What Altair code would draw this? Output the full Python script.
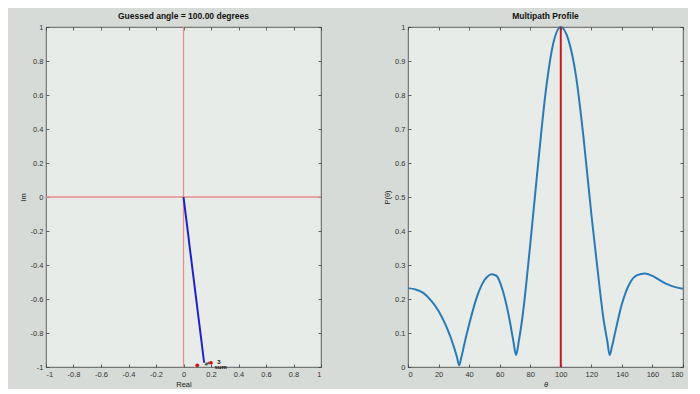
import altair as alt
import pandas as pd

# ---------------- Left panel (phasor view) ----------------
vec_x = [0.0, 0.15]
vec_y = [0.0, -0.975]
red_dot_x = [0.10, 0.20]
red_dot_y = [-0.99, -0.975]
blk_dot_x = [0.165, 0.18]
blk_dot_y = [-0.98, -0.975]
lbl_text = ["3", "sum"]
lbl_x = [0.245, 0.225]
lbl_y = [-0.972, -1.0]
cross_x = [0.0]
cross_y = [0.0]
left_ticks = [-1, -0.8, -0.6, -0.4, -0.2, 0, 0.2, 0.4, 0.6, 0.8, 1]

# ---------------- Right panel (multipath profile) ----------------
theta = [0, 5, 10, 15, 20, 25, 30, 32, 33.5, 35, 37, 40, 45, 50, 55, 58, 62, 66, 69,
         70.7, 72.5, 75, 80, 85, 90, 95, 100, 105, 110, 115, 120, 125, 128, 130.5,
         132, 133.5, 136, 140, 145, 150, 155, 160, 165, 170, 175, 180]
power = [0.232, 0.228, 0.218, 0.196, 0.165, 0.12, 0.06, 0.03, 0.005, 0.03, 0.07, 0.125,
         0.205, 0.255, 0.273, 0.268, 0.225, 0.15, 0.075, 0.035, 0.075, 0.15, 0.36, 0.59,
         0.805, 0.95, 1.0, 0.962, 0.855, 0.67, 0.45, 0.25, 0.14, 0.075, 0.035, 0.06, 0.11,
         0.185, 0.245, 0.27, 0.275, 0.268, 0.255, 0.243, 0.235, 0.23]
guess_angle = [100.0]
right_x_ticks = [0, 20, 40, 60, 80, 100, 120, 140, 160, 180]
right_y_ticks = [0, 0.1, 0.2, 0.3, 0.4, 0.5, 0.6, 0.7, 0.8, 0.9, 1]

FONT = "Liberation Sans"
W, H = 275, 340
LBL = "datum.value < 0 ? '-' + format(-datum.value, '~g') : format(datum.value, '~g')"


def main_axis(title, values, orient, italic=False):
    kw = dict(title=title, values=values, orient=orient, offset=-3, tickSize=3,
              labelPadding=3, labelExpr=LBL, titlePadding=3)
    if italic:
        kw["titleFontStyle"] = "italic"
    return alt.Axis(**kw)


def frame_axis(values, orient):
    return alt.Axis(title=None, values=values, orient=orient, offset=-3, tickSize=3,
                    labels=False)


# Left panel
xs_l = alt.Scale(domain=[-1, 1], nice=False)
ys_l = alt.Scale(domain=[-1, 1], nice=False)

vec_df = pd.DataFrame({"x": vec_x, "y": vec_y})
red_df = pd.DataFrame({"x": red_dot_x, "y": red_dot_y})
blk_df = pd.DataFrame({"x": blk_dot_x, "y": blk_dot_y})
lbl_df = pd.DataFrame({"x": lbl_x, "y": lbl_y, "t": lbl_text})
cx_df = pd.DataFrame({"x": cross_x})
cy_df = pd.DataFrame({"y": cross_y})

l_vline = alt.Chart(cx_df).mark_rule(color="#e58f8f", strokeWidth=1.3).encode(
    x=alt.X("x:Q", scale=xs_l, axis=frame_axis(left_ticks, "top")))
l_hline = alt.Chart(cy_df).mark_rule(color="#e58f8f", strokeWidth=1.3).encode(
    y=alt.Y("y:Q", scale=ys_l, axis=frame_axis(left_ticks, "right")))
l_vec = alt.Chart(vec_df).mark_line(color="#2020c8", strokeWidth=2).encode(
    x=alt.X("x:Q", scale=xs_l, axis=main_axis("Real", left_ticks, "bottom")),
    y=alt.Y("y:Q", scale=ys_l, axis=main_axis("Im", left_ticks, "left")))
l_blk = alt.Chart(blk_df).mark_point(color="#111111", filled=True, size=14, shape="triangle-up").encode(
    x=alt.X("x:Q", scale=xs_l, axis=None), y=alt.Y("y:Q", scale=ys_l, axis=None))
l_red = alt.Chart(red_df).mark_circle(color="#d01010", size=14, opacity=1).encode(
    x=alt.X("x:Q", scale=xs_l, axis=None), y=alt.Y("y:Q", scale=ys_l, axis=None))
l_lbl = alt.Chart(lbl_df).mark_text(font=FONT, fontSize=6, fontWeight="bold", color="#111",
                                    align="left", baseline="middle").encode(
    x=alt.X("x:Q", scale=xs_l, axis=None), y=alt.Y("y:Q", scale=ys_l, axis=None), text="t:N")

left = alt.layer(l_vline, l_hline, l_vec, l_blk, l_red, l_lbl).resolve_axis(
    x="independent", y="independent").properties(
    width=W, height=H, title="Guessed angle = 100.00 degrees")

# Right panel
xs_r = alt.Scale(domain=[0, 180], nice=False)
ys_r = alt.Scale(domain=[0, 1], nice=False)
prof_df = pd.DataFrame({"theta": theta, "p": power})
g_df = pd.DataFrame({"theta": guess_angle, "lo": [0.0], "hi": [1.0]})

r_curve = alt.Chart(prof_df).mark_line(color="#2a7ab8", strokeWidth=2, interpolate="monotone").encode(
    x=alt.X("theta:Q", scale=xs_r, axis=main_axis("θ", right_x_ticks, "bottom", italic=True)),
    y=alt.Y("p:Q", scale=ys_r, axis=main_axis("P(θ)", right_y_ticks, "left")))
r_rule = alt.Chart(g_df).mark_rule(color="#c41a1f", strokeWidth=2).encode(
    x=alt.X("theta:Q", scale=xs_r, axis=frame_axis(right_x_ticks, "top")),
    y=alt.Y("lo:Q", scale=ys_r, axis=frame_axis(right_y_ticks, "right")),
    y2="hi:Q")

right = alt.layer(r_curve, r_rule).resolve_axis(
    x="independent", y="independent").properties(
    width=W, height=H, title="Multipath Profile")

chart = alt.hconcat(left, right, spacing=60).properties(
    background="#d7dbd7",
    padding={"left": 10, "top": 3, "right": 0, "bottom": 0},
).configure_view(
    fill="#e8ece8", stroke="#3c3c3c", strokeWidth=0.8
).configure_axis(
    grid=False, domain=False, labelFont=FONT, titleFont=FONT, labelFontSize=7.5,
    titleFontSize=7.5, labelColor="#333333", titleColor="#222222", tickColor="#3c3c3c",
    titleFontWeight="normal", tickWidth=0.8
).configure_title(
    font=FONT, fontSize=8.5, fontWeight="bold", color="#111111", offset=3
)

chart.save("out.html", embed_options={"renderer": "svg", "actions": False})
